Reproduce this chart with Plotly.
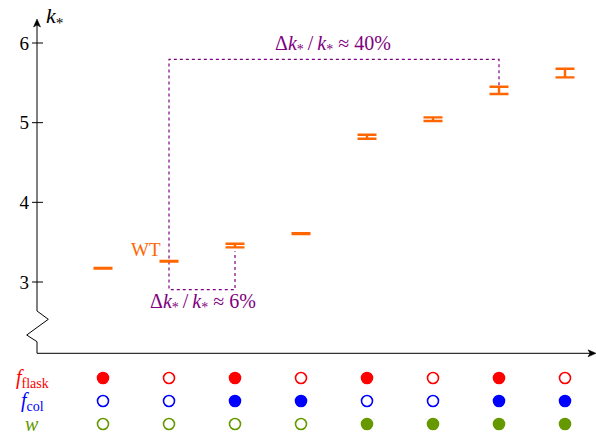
import plotly.graph_objects as go

# ---- data ----------------------------------------------------------------
positions = [1, 2, 3, 4, 5, 6, 7, 8]
k_star = [3.172, 3.260, 3.458, 3.607, 4.823, 5.043, 5.405, 5.622]
k_err = [0.003, 0.003, 0.023, 0.006, 0.025, 0.023, 0.046, 0.054]
wt_index = 1

row_names = ["<i>f</i><sub>flask</sub>", "<i>f</i><sub>col</sub>", "<i>w</i>"]
row_colors = ["#ff0000", "#0000ff", "#669900"]
f_flask = [1, 0, 1, 0, 1, 0, 1, 0]
f_col = [0, 0, 1, 1, 0, 0, 1, 1]
w_on = [0, 0, 0, 0, 1, 1, 1, 1]
rows = [f_flask, f_col, w_on]

y_ticks = [3, 4, 5, 6]
y_tick_text = ["3", "4", "5", "6"]

# ---- style ----------------------------------------------------------------
W, H = 596, 433
FONT = "Liberation Serif"
ORANGE = "#ff6600"
PURPLE = "#800080"

# horizontal scale: x = 0 sits on the vertical axis, one column per unit
x_px0, x_step = 37, 66
x_range = [-x_px0 / x_step, (W - x_px0) / x_step]
# vertical scale for k_*: 3 -> 282 px, 6 -> 43 px (from top)
y_unit = (282 - 43) / 3
y_range = [3 - (H - 282) / y_unit, 6 + 43 / y_unit]


def ky(px):
    """k_* value sitting at a given pixel row."""
    return 3 + (282 - px) / y_unit


def kx(px):
    """x value sitting at a given pixel column."""
    return (px - x_px0) / x_step


fig = go.Figure()

# k_* estimates with error bars (no central marker, caps only)
fig.add_trace(go.Scatter(
    x=positions, y=k_star, mode="markers",
    marker=dict(size=1, color="rgba(0,0,0,0)"),
    error_y=dict(type="data", array=k_err, visible=True,
                 color=ORANGE, thickness=2.4, width=9.5),
    hoverinfo="skip", showlegend=False,
))

annotations = []

# indicator table below the axis
for names, flags, color, r in zip(row_names, rows, row_colors, range(3)):
    fig.add_trace(go.Scatter(
        x=positions, y=[r] * len(positions), yaxis="y2", mode="markers",
        marker=dict(size=11,
                    symbol=["circle" if f else "circle-open" for f in flags],
                    color=color, line=dict(color=color, width=1.6)),
        hoverinfo="skip", showlegend=False,
    ))
    annotations.append(dict(x=32 / W, xref="paper", y=r, yref="y2",
                            text=names, showarrow=False, xanchor="center",
                            yanchor="middle",
                            font=dict(family=FONT, size=20, color=color)))

axis_line = dict(color="black", width=1)
shapes = []
# y-axis tick marks crossing the axis
for t in y_ticks:
    shapes.append(dict(type="line", xref="x", yref="y",
                       x0=kx(32), x1=kx(43), y0=t, y1=t, line=axis_line))
# vertical axis: axis break zigzag, then the line up to the arrow
y_axis_pts = [(kx(37), ky(353.3)), (kx(37), ky(341.7)), (kx(26.7), ky(335)),
              (kx(48.3), ky(319.3)), (kx(37), ky(311)), (kx(37), ky(24))]
shapes.append(dict(type="path", xref="x", yref="y",
                   path="M " + " L ".join(f"{a},{b}" for a, b in y_axis_pts),
                   line=axis_line))
# horizontal axis
shapes.append(dict(type="line", xref="x", yref="y",
                   x0=kx(37), x1=kx(592), y0=ky(353.3), y1=ky(353.3),
                   line=axis_line))
# arrow heads
up_head = [(kx(37), ky(19)), (kx(40.5), ky(27)), (kx(37), ky(25)),
           (kx(33.5), ky(27))]
right_head = [(kx(596), ky(353.3)), (kx(588), ky(349.8)), (kx(590), ky(353.3)),
              (kx(588), ky(356.8))]
for head in (up_head, right_head):
    shapes.append(dict(type="path", xref="x", yref="y",
                       path="M " + " L ".join(f"{a},{b}" for a, b in head) + " Z",
                       fillcolor="black", line=dict(color="black", width=0.5)))

# dotted brackets comparing WT with neighbouring estimates
i7 = 6
i3 = 2
bracket = [
    (positions[i7], k_star[i7] + k_err[i7] + 0.02),
    (positions[i7], ky(59.3)),
    (positions[wt_index], ky(59.3)),
    (positions[wt_index], ky(289.7)),
    (positions[i3], ky(289.7)),
    (positions[i3], k_star[i3] - k_err[i3] - 0.05),
]
shapes.append(dict(type="path", xref="x", yref="y",
                   path="M " + " L ".join(f"{a},{b}" for a, b in bracket),
                   line=dict(color=PURPLE, width=1.2, dash="dot"),
                   layer="below"))

ratio = "Δ<i>k</i><sub>*</sub>\u2009/\u2009<i>k</i><sub>*</sub> ≈ "
annotations += [
    dict(x=44 / W, y=1 - 17 / H, xref="paper", yref="paper", xanchor="left",
         yanchor="middle", showarrow=False,
         text="<i>k</i><sub>*</sub>",
         font=dict(family=FONT, size=22, color="black")),
    dict(x=163 / W, y=1 - 249 / H, xref="paper", yref="paper",
         xanchor="right", yanchor="middle", showarrow=False, text="WT",
         font=dict(family=FONT, size=19, color=ORANGE)),
    dict(x=333 / W, y=1 - 44 / H, xref="paper", yref="paper",
         xanchor="center", yanchor="middle", showarrow=False,
         text=ratio + "40%",
         font=dict(family=FONT, size=20, color=PURPLE)),
    dict(x=203 / W, y=1 - 302 / H, xref="paper", yref="paper",
         xanchor="center", yanchor="middle", showarrow=False,
         text=ratio + "6%",
         font=dict(family=FONT, size=20, color=PURPLE)),
]

fig.update_layout(
    width=W, height=H,
    margin=dict(l=0, r=0, t=0, b=0),
    paper_bgcolor="white", plot_bgcolor="white",
    xaxis=dict(range=x_range, visible=False, fixedrange=True),
    yaxis=dict(range=y_range, domain=[0, 1], anchor="free",
               position=x_px0 / W, showgrid=False, zeroline=False,
               showline=False, ticks="", tickvals=y_ticks,
               ticktext=y_tick_text, ticklabelstandoff=8,
               tickfont=dict(family=FONT, size=19, color="black")),
    yaxis2=dict(domain=[0, 0.2], anchor="x",
                range=[2.391, -1.374], visible=False),
    shapes=shapes,
    annotations=annotations,
)

fig.write_html("out.html")
